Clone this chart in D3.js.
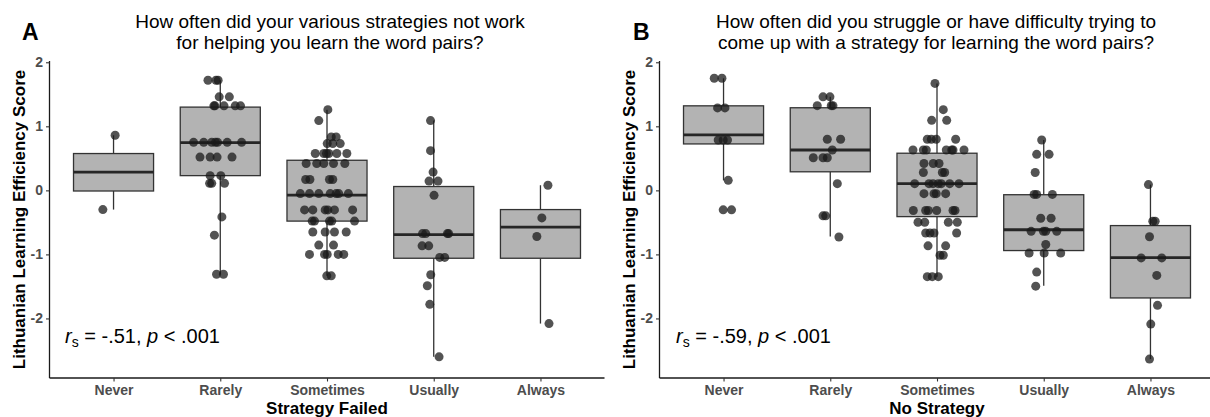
<!DOCTYPE html>
<html><head><meta charset="utf-8">
<script src="https://cdn.jsdelivr.net/npm/d3@7"></script>
<style>
html,body{margin:0;padding:0;background:#fff;}
svg{display:block;font-family:"Liberation Sans",Arial,Helvetica,sans-serif;}
</style></head>
<body><svg id="chart" width="1210" height="417"></svg>
<script>
// ---------------- DATA ----------------
const categories = ["Never", "Rarely", "Sometimes", "Usually", "Always"];
const yTicks = [-2, -1, 0, 1, 2];

// Panel A: Strategy Failed — box statistics
const q1A  = [-0.01, 0.23, -0.48, -1.06, -1.06];
const medA = [0.285, 0.745, -0.075, -0.69, -0.575];
const q3A  = [0.575, 1.30, 0.47, 0.06, -0.30];
const loA  = [-0.30, -1.31, -1.335, -2.60, -2.08];
const hiA  = [0.86, 1.72, 1.26, 1.09, 0.08];

// Panel A jittered points: values and horizontal jitter (category units)
const valsA = [
  [0.86, -0.30],
  [1.72, 1.72, 1.72, 1.46, 1.46, 1.32, 1.32, 1.32, 1.32, 1.32,
   0.75, 0.75, 0.75, 0.75, 0.75, 0.75, 0.75, 0.52, 0.52, 0.52, 0.52,
   0.23, 0.23, 0.11, 0.11, 0.11, -0.415, -0.70, -1.31, -1.31],
  [1.26, 1.09, 0.835, 0.835, 0.73, 0.73, 0.73,
   0.575, 0.575, 0.575, 0.575, 0.575, 0.575,
   0.42, 0.42, 0.42, 0.42, 0.42,
   0.17, 0.17, 0.17, 0.17,
   -0.05, -0.05, -0.05, -0.05, -0.05, -0.05, -0.05,
   -0.305, -0.305, -0.305, -0.305, -0.305, -0.305,
   -0.48, -0.48, -0.48, -0.48, -0.48,
   -0.65, -0.65, -0.65, -0.65,
   -0.855, -0.855,
   -1.0, -1.0, -1.0, -1.0, -1.0,
   -1.335, -1.335],
  [1.09, 0.62, 0.285, 0.145, 0.145, -0.078, -0.675, -0.675, -0.675, -0.675,
   -0.866, -0.866, -1.047, -1.047, -1.317, -1.49, -1.78, -2.60],
  [0.08, -0.43, -0.72, -2.08]
];
const jitA = [
  [0.015, -0.10],
  [-0.115, -0.04, -0.02, -0.01, 0.085, -0.06, -0.05, 0.035, 0.14, 0.19,
   -0.25, -0.155, -0.08, -0.045, -0.025, 0.065, 0.20, -0.19, -0.095, -0.03, 0.11,
   -0.095, 0.005, -0.10, -0.08, 0.04, 0.015, -0.055, -0.035, 0.03],
  [0.008, -0.077, 0.04, 0.086, 0.002, 0.054, 0.124,
   -0.11, -0.03, -0.005, 0.017, 0.092, 0.186,
   -0.195, -0.096, -0.03, 0.061, 0.167,
   -0.20, -0.16, 0.023, 0.054,
   -0.25, -0.164, -0.077, 0.03, 0.086, 0.11, 0.20,
   -0.21, -0.133, -0.017, 0.008, 0.07, 0.24,
   -0.139, -0.117, 0.023, 0.045, 0.258,
   -0.133, -0.017, 0.07, 0.18,
   -0.077, 0.061,
   -0.164, -0.023, 0.002, 0.105, 0.157,
   -0.002, 0.04],
  [-0.03, -0.03, -0.006, -0.044, 0.04, 0.003, -0.105, -0.075, 0.128, 0.14,
   -0.109, -0.047, 0.056, 0.103, -0.028, -0.06, -0.037, 0.05],
  [0.07, 0.013, -0.034, 0.08]
];

// Panel B: No Strategy — box statistics
const q1B  = [0.725, 0.29, -0.41, -0.94, -1.68];
const medB = [0.865, 0.63, 0.105, -0.615, -1.05];
const q3B  = [1.32, 1.29, 0.58, -0.068, -0.55];
const loB  = [0.157, -0.72, -1.35, -1.49, -2.635];
const hiB  = [1.75, 1.46, 1.67, 0.787, 0.09];

const valsB = [
  [1.75, 1.75, 1.287, 1.287, 0.787, 0.787, 0.787, 0.157, -0.304, -0.304],
  [1.46, 1.46, 1.323, 1.323, 1.323, 0.798, 0.798, 0.63, 0.51, 0.51, 0.51,
   0.105, -0.398, -0.398, -0.729],
  [1.67, 1.26, 1.093, 1.093,
   0.798, 0.798, 0.798, 0.798,
   0.63, 0.63, 0.63, 0.63, 0.63, 0.63, 0.63,
   0.42, 0.42, 0.42,
   0.279, 0.279, 0.279,
   0.105, 0.105, 0.105, 0.105, 0.105, 0.105, 0.105,
   -0.052, -0.052, -0.052, -0.052,
   -0.315, -0.315, -0.315, -0.315, -0.315, -0.315,
   -0.498, -0.498, -0.498, -0.498,
   -0.666, -0.666, -0.666, -0.666,
   -0.866, -0.866,
   -1.013, -1.013,
   -1.348, -1.348, -1.348],
  [0.787, 0.562, 0.562, 0.279, -0.063, -0.063, -0.063, -0.435, -0.435,
   -0.64, -0.64, -0.64, -0.64, -0.845, -0.98, -0.98, -0.98, -1.276, -1.496],
  [0.09, -0.482, -0.482, -0.724, -1.055, -1.055, -1.328, -1.795, -2.088, -2.635]
];
const jitB = [
  [-0.087, -0.015, -0.056, 0.013, -0.05, -0.003, 0.037, 0.044, -0.003, 0.075],
  [-0.068, -0.003, -0.122, 0.009, 0.025, -0.028, 0.097, 0.019, -0.159, -0.068, -0.028,
   0.066, -0.068, -0.043, 0.081],
  [-0.019, 0.059, -0.05, 0.091,
   -0.091, -0.053, -0.007, 0.175,
   -0.225, -0.128, -0.10, 0.087, 0.138, 0.15, 0.253,
   -0.122, -0.035, 0.019,
   -0.128, 0.05, 0.072,
   -0.209, -0.075, -0.037, 0.012, 0.04, 0.119, 0.206,
   -0.122, -0.028, -0.007, 0.081,
   -0.222, -0.106, -0.081, -0.003, 0.15, 0.169,
   -0.178, -0.115, 0.106, 0.19,
   -0.106, -0.066, -0.028, 0.184,
   -0.084, 0.081,
   0.028, 0.059,
   -0.091, -0.044, 0.012],
  [-0.019, -0.066, 0.05, -0.08, -0.09, -0.066, 0.081, -0.028, 0.069,
   -0.118, -0.003, 0.019, 0.122, 0.019, -0.137, 0.004, 0.159, -0.066, -0.075],
  [-0.019, 0.022, 0.044, -0.009, -0.087, 0.106, 0.059, 0.066, 0.003, -0.009]
];

// ---------------- DRAWING ----------------
const svg = d3.select("#chart");
const FONT = '"Liberation Sans",Arial,Helvetica,sans-serif';

function panel(cfg) {
  const x = d3.scalePoint().domain(categories).range([cfg.left, cfg.right]).padding(0.6);
  const y = d3.scaleLinear().domain([-2.93, 2.02]).range([378, 61]);
  const step = x.step();
  const bw = step * 0.75;
  const g = svg.append("g");

  // boxes
  categories.forEach((c, i) => {
    const cx = x(c);
    g.append("line").attr("x1", cx).attr("x2", cx)
      .attr("y1", y(cfg.hi[i])).attr("y2", y(cfg.q3[i]))
      .attr("stroke", "#333").attr("stroke-width", 1.3);
    g.append("line").attr("x1", cx).attr("x2", cx)
      .attr("y1", y(cfg.q1[i])).attr("y2", y(cfg.lo[i]))
      .attr("stroke", "#333").attr("stroke-width", 1.3);
    g.append("rect").attr("x", cx - bw / 2).attr("width", bw)
      .attr("y", y(cfg.q3[i])).attr("height", y(cfg.q1[i]) - y(cfg.q3[i]))
      .attr("fill", "#b3b3b3").attr("stroke", "#333").attr("stroke-width", 1.3);
    g.append("line").attr("x1", cx - bw / 2).attr("x2", cx + bw / 2)
      .attr("y1", y(cfg.med[i])).attr("y2", y(cfg.med[i]))
      .attr("stroke", "#262626").attr("stroke-width", 2.8);
  });

  // points
  categories.forEach((c, i) => {
    g.selectAll(null).data(cfg.vals[i].map((v, k) => ({v, j: cfg.jit[i][k]})))
      .enter().append("circle")
      .attr("cx", d => x(c) + d.j * step)
      .attr("cy", d => y(d.v))
      .attr("r", 4.5)
      .attr("fill", "#1a1a1a").attr("fill-opacity", 0.75);
  });

  // axes
  const yAx = g.append("g").attr("transform", `translate(${cfg.left},0)`)
    .call(d3.axisLeft(y).tickValues(yTicks).tickFormat(d => String(d)).tickSize(3.5).tickPadding(3));
  const xAx = g.append("g").attr("transform", `translate(0,378)`)
    .call(d3.axisBottom(x).tickSize(3.5).tickPadding(4));
  [yAx, xAx].forEach(ax => {
    ax.select(".domain").attr("stroke", "#1a1a1a").attr("stroke-width", 1.3);
    ax.selectAll(".tick line").attr("stroke", "#333").attr("stroke-width", 1.1);
    ax.selectAll(".tick text").attr("fill", "#4d4d4d").style("font-weight", "bold")
      .style("font-size", "14px").style("font-family", FONT);
  });
  yAx.select(".domain").attr("d", `M0,${y.range()[1]}V378`);
  xAx.select(".domain").attr("d", `M${cfg.left},0H${cfg.right}`);

  const mid = (cfg.left + cfg.right) / 2;
  // axis titles
  g.append("text").attr("x", mid).attr("y", 414).attr("text-anchor", "middle")
    .style("font-weight", "bold").style("font-size", "17px").attr("fill", "#000")
    .text(cfg.xTitle);
  g.append("text").attr("transform", `translate(${cfg.left - 25},${(61 + 378) / 2}) rotate(-90)`)
    .attr("text-anchor", "middle").style("font-weight", "bold").style("font-size", "17px")
    .attr("fill", "#000").text("Lithuanian Learning Efficiency Score");

  // title
  const tmid = cfg.titleMid;
  cfg.title.forEach((t, k) => {
    g.append("text").attr("x", tmid).attr("y", 28 + k * 21).attr("text-anchor", "middle")
      .style("font-size", "19px").attr("fill", "#000").text(t);
  });
  // panel letter
  g.append("text").attr("x", cfg.letterX).attr("y", 40)
    .style("font-weight", "bold").style("font-size", "23px").attr("fill", "#000").text(cfg.letter);

  // annotation
  const ann = g.append("text").attr("x", cfg.annX).attr("y", 343)
    .style("font-size", "20px").attr("fill", "#000");
  ann.append("tspan").style("font-style", "italic").text("r");
  ann.append("tspan").attr("dy", 4).style("font-size", "14px").text("s");
  ann.append("tspan").attr("dy", -4).text(" = " + cfg.rs + ", ");
  ann.append("tspan").style("font-style", "italic").text("p");
  ann.append("tspan").text(" < .001");
}

panel({
  left: 49.5, right: 604.5, letter: "A", letterX: 22, titleMid: 330, annX: 65,
  title: ["How often did your various strategies not work", "for helping you learn the word pairs?"],
  xTitle: "Strategy Failed", rs: "-.51",
  q1: q1A, med: medA, q3: q3A, lo: loA, hi: hiA, vals: valsA, jit: jitA
});
panel({
  left: 659.5, right: 1214.5, letter: "B", letterX: 633, titleMid: 936, annX: 676,
  title: ["How often did you struggle or have difficulty trying to", "come up with a strategy for learning the word pairs?"],
  xTitle: "No Strategy", rs: "-.59",
  q1: q1B, med: medB, q3: q3B, lo: loB, hi: hiB, vals: valsB, jit: jitB
});
</script></body></html>
